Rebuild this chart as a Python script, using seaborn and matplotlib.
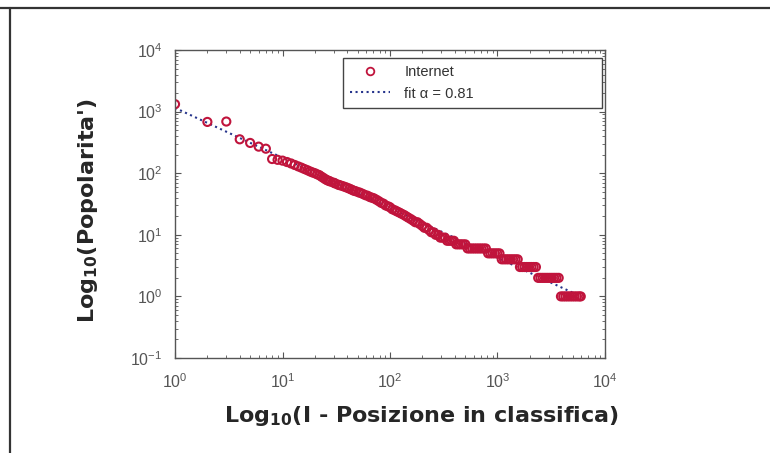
import numpy as np
import matplotlib
matplotlib.use("Agg")
import matplotlib.pyplot as plt
from matplotlib.lines import Line2D
import seaborn as sns

# rank in the list vs popularity
rank = [1, 2, 3, 4, 5, 6, 7, 8, 9,
        10, 11, 12, 13, 14, 15, 16, 17, 18, 19,
        20, 21, 22, 23, 24, 25, 26, 27, 28, 30,
        31, 33, 34, 36, 38, 40, 42, 44, 46, 48,
        51, 53, 56, 59, 62, 65, 68, 71, 75, 79,
        83, 87, 91, 96, 100, 105, 111, 116, 122, 128,
        135, 141, 148, 156, 164, 172, 180, 189, 199, 209,
        219, 230, 242, 254, 266, 280, 294, 308, 324, 340,
        357, 375, 393, 413, 434, 455, 478, 502, 527, 553,
        581, 610, 641, 673, 706, 742, 779, 818, 858, 901,
        946, 994, 1043, 1095, 1150, 1208, 1268, 1331, 1398, 1468,
        1541, 1618, 1699, 1784, 1873, 1967, 2065, 2169, 2277, 2391,
        2510, 2636, 2768, 2906, 3051, 3204, 3364, 3532, 3709, 3894,
        4089, 4293, 4508, 4733, 4970, 5218, 5479, 5753, 5950]
popularity = [1320, 680, 690, 355, 310, 270, 250, 170, 165,
              160, 152, 144, 136, 129, 123, 117, 112, 107, 103,
              100, 96, 93, 88, 84, 80, 77, 75, 73, 70,
              68, 65, 64, 62, 60, 58, 56, 54, 52, 51,
              49, 48, 46, 44, 43, 41, 40, 39, 37, 35,
              33, 32, 30, 29, 28, 26, 25, 24, 23, 22,
              21, 20, 19, 18, 17, 16, 16, 15, 14, 13,
              13, 12, 11, 11, 10, 10, 9, 9, 9, 8,
              8, 8, 8, 7, 7, 7, 7, 7, 6, 6,
              6, 6, 6, 6, 6, 6, 6, 5, 5, 5,
              5, 5, 5, 4, 4, 4, 4, 4, 4, 4,
              4, 3, 3, 3, 3, 3, 3, 3, 3, 2,
              2, 2, 2, 2, 2, 2, 2, 2, 2, 1,
              1, 1, 1, 1, 1, 1, 1, 1, 1]

# power-law fit, exponent 0.81
fit_rank = [1, 5600]
fit_pop = [1150, 1.05]
fit_label = "fit \u03b1 = 0.81"

sns.set_style("ticks")
plt.rcParams["font.family"] = ["Liberation Sans", "DejaVu Sans"]
plt.rcParams["mathtext.fontset"] = "custom"
plt.rcParams["mathtext.rm"] = "Liberation Sans"
plt.rcParams["mathtext.bf"] = "DejaVu Sans:bold"

fig = plt.figure(figsize=(7.7, 4.53), dpi=100)
ax = fig.add_axes([0.2273, 0.2097, 0.5584, 0.6799])

red = "#c0143c"
navy = "#26348c"

sns.lineplot(x=fit_rank, y=fit_pop, ax=ax, color=navy, linestyle=":",
             linewidth=1.5, zorder=1)
sns.scatterplot(x=rank, y=popularity, ax=ax, marker="o", s=34,
                facecolor="none", edgecolor=red, linewidth=1.5, zorder=2)

ax.set_xscale("log")
ax.set_yscale("log")
ax.set_xlim(1, 1e4)
ax.set_ylim(1e-1, 1e4)

for s in ax.spines.values():
    s.set_color("#555555")
    s.set_linewidth(1.0)
ax.tick_params(which="both", direction="in", top=True, right=True,
               colors="#555555", labelcolor="#555555", labelsize=11.5)
ax.tick_params(which="major", length=4)
ax.tick_params(which="minor", length=2)
ax.tick_params(axis="x", pad=10)
ax.tick_params(axis="y", pad=9)

label_font = {"family": "DejaVu Sans", "weight": "bold", "size": 16}
ax.set_xlabel(r"Log$_{\mathbf{10}}$(I - Posizione in classifica)",
              fontdict=label_font)
ax.set_ylabel(r"Log$_{\mathbf{10}}$(Popolarita')", fontdict=label_font)
ax.xaxis.set_label_coords(0.574, -0.15)
ax.yaxis.set_label_coords(-0.175, 0.477)

handles = [
    Line2D([], [], marker="o", linestyle="none", markersize=5.5,
           markerfacecolor="none", markeredgecolor=red, markeredgewidth=1.3),
    Line2D([], [], color=navy, linestyle=":", linewidth=1.5),
]
leg = ax.legend(handles, ["Internet", fit_label], loc="upper left",
                bbox_to_anchor=(0.391, 0.805, 0.602, 0.169), mode="expand",
                borderaxespad=0, fancybox=False, framealpha=1,
                edgecolor="#444444", fontsize=10.5, handlelength=2.7,
                handletextpad=1.0, labelspacing=0.5, borderpad=0.5)
leg.get_frame().set_linewidth(1.0)
for t in leg.get_texts():
    t.set_color("#333333")

# page frame lines around the figure
fig.add_artist(Line2D([0.0, 1.0], [1 - 8 / 453, 1 - 8 / 453],
                      color="#333333", linewidth=1.6))
fig.add_artist(Line2D([10 / 770, 10 / 770], [0.0, 1 - 8 / 453],
                      color="#333333", linewidth=1.6))

fig.savefig("out.png", dpi=100)
